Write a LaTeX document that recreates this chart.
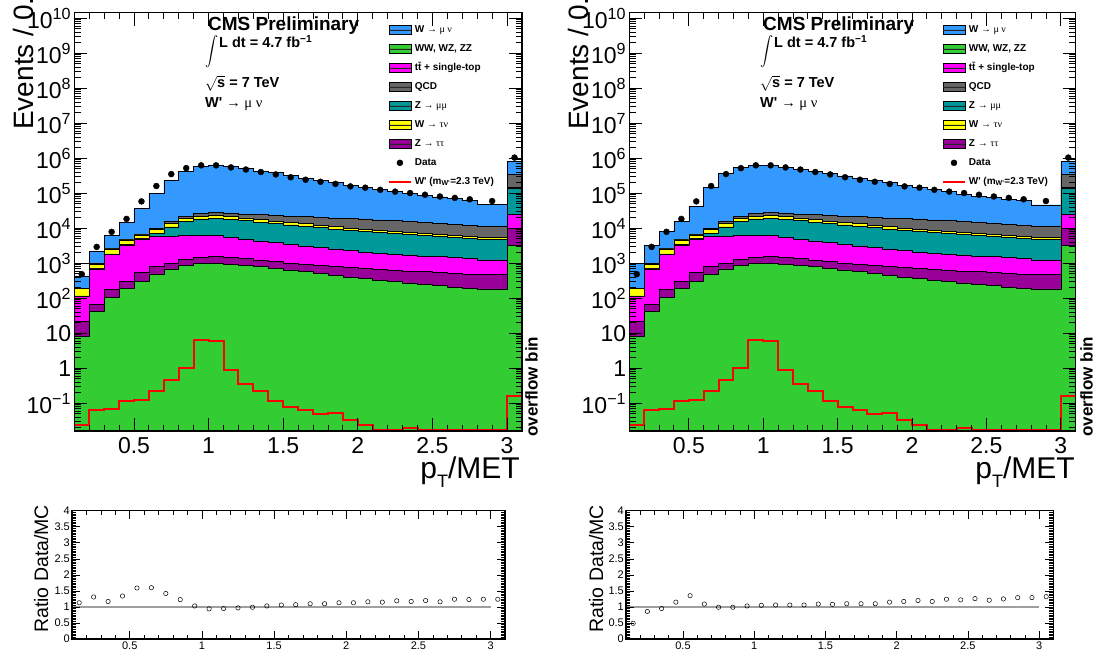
\documentclass[border=0pt]{standalone}
\usepackage{fontspec}
\setmainfont{Liberation Sans}
\newfontfamily\symfont{Liberation Serif}
\usepackage{pgfplots}
\pgfplotsset{compat=1.18}
\usepackage{pgfplotstable}

\definecolor{cWmu}{RGB}{51,153,255}
\definecolor{cVV}{RGB}{51,204,51}
\definecolor{cTop}{RGB}{255,0,255}
\definecolor{cQCD}{RGB}{102,102,102}
\definecolor{cZmu}{RGB}{0,153,153}
\definecolor{cWtau}{RGB}{255,255,0}
\definecolor{cZtau}{RGB}{153,0,153}
\definecolor{cSig}{RGB}{255,0,0}

% cumulative stack heights per bin (left bin edge);
% first and last rows drop to the lower axis limit so that the areas close at the bottom
\pgfplotstableread{
x   wmuL    wmuR    qcd     wtau    zmm     top     ztt     vv
0.1 0.0162  0.0162  0.0162  0.0162  0.0162  0.0162  0.0162  0.0162
0.1 437     1000    195     191     117     115     21.9    8.1
0.2 2240    3310    977     955     708     692     66.1    41.7
0.3 6310    8320    2630    2570    1860    1820    182     107
0.4 14500   15800   4900    4680    3470    3310    309     191
0.5 36300   42700   6920    6460    5130    5010    537     309
0.6 102000  151000  10000   9120    7240    5890    813     501
0.7 240000  372000  15500   13500   11000   6030    977     692
0.8 427000  537000  21400   19100   16200   6310    1320    851
0.9 575000  617000  26300   22400   18600   6310    1480    977
1.0 646000  631000  28800   23400   19500   6170    1580    1000
1.1 603000  562000  27500   21900   18200   5500    1480    955
1.2 513000  479000  25700   20000   16600   4900    1350    891
1.3 437000  417000  24500   17800   14800   4370    1230    813
1.4 389000  363000  22900   16200   13500   3890    1120    724
1.5 324000  316000  21900   14800   12600   3550    1020    646
1.6 275000  269000  21400   13500   11500   3160    955     575
1.7 240000  240000  20400   12300   10500   2820    891     513
1.8 204000  204000  20000   11200   9550    2570    813     457
1.9 170000  166000  19100   10200   8710    2290    759     407
2.0 148000  145000  18600   9550    8130    2040    708     363
2.1 132000  129000  17400   8910    7590    1950    676     331
2.2 115000  112000  16600   8320    7080    1820    646     302
2.3 100000  95500   15500   7760    6610    1740    603     275
2.4 87100   83200   14500   7240    6170    1620    575     251
2.5 79400   75900   13500   6610    5750    1550    537     229
2.6 70800   67600   12900   6170    5370    1450    513     209
2.7 61700   61700   12000   5890    5130    1380    490     191
2.8 47900   46800   11700   5620    4900    1260    479     186
3.0 832000  813000  347000  148000  141000  24500   10000   3310
3.1 832000  813000  347000  148000  141000  24500   10000   3310
3.1 0.0162  0.0162  0.0162  0.0162  0.0162  0.0162  0.0162  0.0162
}\stacktab

\pgfplotstableread{
x    y
0.15 490
0.25 2950
0.35 7940
0.45 18600
0.55 58900
0.65 162000
0.75 355000
0.85 525000
0.95 631000
1.05 631000
1.15 550000
1.25 479000
1.35 407000
1.45 347000
1.55 288000
1.65 245000
1.75 214000
1.85 186000
1.95 158000
2.05 145000
2.15 126000
2.25 112000
2.35 102000
2.45 91200
2.55 81300
2.65 74100
2.75 67600
2.90 60300
3.05 1050000
}\datatab

\pgfplotstableread{
x   y
0.1 0.024
0.2 0.063
0.3 0.069
0.4 0.117
0.5 0.126
0.6 0.224
0.7 0.457
0.8 1.02
0.9 6.46
1.0 6.03
1.1 0.891
1.2 0.363
1.3 0.219
1.4 0.120
1.5 0.0776
1.6 0.0661
1.7 0.0501
1.8 0.0525
1.9 0.0340
2.0 0.0240
2.1 0.0172
2.2 0.0178
2.3 0.0200
2.4 0.0168
2.5 0.0168
2.6 0.0168
2.7 0.0168
2.8 0.0168
3.0 0.166
3.1 0.166
}\sigtab

\pgfplotstableread{
x    rL   rR
0.15 1.13 0.49
0.25 1.31 0.86
0.35 1.17 0.95
0.45 1.34 1.15
0.55 1.59 1.35
0.65 1.60 1.09
0.75 1.42 0.99
0.85 1.23 0.99
0.95 1.03 1.03
1.05 0.94 1.05
1.15 0.95 1.06
1.25 0.97 1.06
1.35 0.99 1.06
1.45 1.03 1.09
1.55 1.06 1.08
1.65 1.07 1.10
1.75 1.10 1.10
1.85 1.10 1.10
1.95 1.13 1.15
2.05 1.13 1.17
2.15 1.16 1.20
2.25 1.15 1.17
2.35 1.19 1.24
2.45 1.17 1.22
2.55 1.20 1.26
2.65 1.16 1.21
2.75 1.24 1.25
2.85 1.23 1.29
2.95 1.24 1.29
3.05 1.24 1.32
}\ratiotab

\pgfplotsset{
  stackfill/.style={const plot mark left, draw=black, line width=0.6pt, forget plot},
  swatch/.style={legend image code/.code={%
      \fill (0pt,-4.5pt) rectangle (22pt,4.5pt);
      \draw[black!85, line width=0.6pt] (0pt,0pt) -- (22pt,0pt);}},
}

% legend entries, shared by both panels
\newcommand\legendentries{%
  \addlegendimage{swatch, fill=cWmu}\addlegendentry{W {\symfont\mdseries → μ ν}}
  \addlegendimage{swatch, fill=cVV}\addlegendentry{WW, WZ, ZZ}
  \addlegendimage{swatch, fill=cTop}\addlegendentry{t\={t} + single-top}
  \addlegendimage{swatch, fill=cQCD}\addlegendentry{QCD}
  \addlegendimage{swatch, fill=cZmu}\addlegendentry{Z {\symfont\mdseries → μμ}}
  \addlegendimage{swatch, fill=cWtau}\addlegendentry{W {\symfont\mdseries → τν}}
  \addlegendimage{swatch, fill=cZtau}\addlegendentry{Z {\symfont\mdseries → ττ}}
  \addlegendimage{legend image code/.code={\fill[black] (11pt,0pt) circle (3pt);}}\addlegendentry{Data}
  \addlegendimage{legend image code/.code={\draw[cSig, line width=1.8pt] (0pt,0pt) -- (22pt,0pt);}}\addlegendentry{W\textquotesingle\ (m\textsubscript{W\textquotesingle}=2.3 TeV)}
}

% the lower layers of the stack, the signal and the data, common to both panels
\newcommand\lowerstack{%
  \addplot[stackfill, fill=cQCD]  table[x=x, y=qcd]  {\stacktab};
  \addplot[stackfill, fill=cWtau] table[x=x, y=wtau] {\stacktab};
  \addplot[stackfill, fill=cZmu]  table[x=x, y=zmm]  {\stacktab};
  \addplot[stackfill, fill=cTop]  table[x=x, y=top]  {\stacktab};
  \addplot[stackfill, fill=cZtau] table[x=x, y=ztt]  {\stacktab};
  \addplot[stackfill, fill=cVV]   table[x=x, y=vv]   {\stacktab};
  \addplot[const plot mark left, draw=cSig, line width=2pt, forget plot] table {\sigtab};
  \addplot[only marks, mark=*, mark size=3pt, black, forget plot] table {\datatab};
}

\newcommand\mainopts{%
    scale only axis, height=418.3pt, anchor=south west,
    ymode=log,
    xmin=0.1, xmax=3.1, ymin=0.0162, ymax=1.45e10,
    xtick={0.5,1,1.5,2,2.5,3},
    minor xtick={0.1,0.2,...,3.1},
    ytick={1e-1,1,10,100,1e3,1e4,1e5,1e6,1e7,1e8,1e9,1e10},
    minor ytick={2e-2,3e-2,4e-2,5e-2,6e-2,7e-2,8e-2,9e-2,
      2e-1,3e-1,4e-1,5e-1,6e-1,7e-1,8e-1,9e-1,
      2,3,4,5,6,7,8,9, 20,30,40,50,60,70,80,90,
      200,300,400,500,600,700,800,900,
      2e3,3e3,4e3,5e3,6e3,7e3,8e3,9e3,
      2e4,3e4,4e4,5e4,6e4,7e4,8e4,9e4,
      2e5,3e5,4e5,5e5,6e5,7e5,8e5,9e5,
      2e6,3e6,4e6,5e6,6e6,7e6,8e6,9e6,
      2e7,3e7,4e7,5e7,6e7,7e7,8e7,9e7,
      2e8,3e8,4e8,5e8,6e8,7e8,8e8,9e8,
      2e9,3e9,4e9,5e9,6e9,7e9,8e9,9e9},
    yticklabels={10\textsuperscript{−1},1,10,10\textsuperscript{2},10\textsuperscript{3},10\textsuperscript{4},10\textsuperscript{5},10\textsuperscript{6},10\textsuperscript{7},10\textsuperscript{8},10\textsuperscript{9},10\textsuperscript{10}},
    axis on top, tick align=inside,
    major tick length=13pt, minor tick length=6.5pt,
    every tick/.style={black, line width=0.9pt},
    axis line style={line width=1.5pt},
    tick label style={font=\fontsize{23}{23}\selectfont},
    yticklabel style={inner xsep=3pt},
    xticklabel style={inner ysep=6pt},
    legend cell align=left,
    legend style={at={(0.7007,0.971)}, anchor=north west, draw=none, fill=none,
      inner sep=0pt, outer sep=0pt, row sep=9pt,
      font=\fontsize{10}{12}\selectfont\bfseries,
      nodes={inner sep=0pt, text height=7.5pt, text depth=2.5pt},
      /tikz/every odd column/.append style={column sep=3pt}},
    /pgf/number format/assume math mode=true}

\newcommand\ratioopts{%
    scale only axis, height=128.3pt, anchor=south west,
    xmin=0.1, xmax=3.1, ymin=0, ymax=4,
    xtick={0.5,1,1.5,2,2.5,3}, minor xtick={0.1,0.2,...,3.1},
    ytick={0,0.5,1,1.5,2,2.5,3,3.5,4}, minor y tick num=9,
    axis on top, tick align=inside,
    major tick length=8pt, minor tick length=4pt,
    every tick/.style={black, line width=0.6pt},
    axis line style={line width=1.2pt},
    tick label style={font=\fontsize{11}{11}\selectfont},
    yticklabel style={inner xsep=2pt},
    xticklabel style={inner ysep=3pt},
    /pgf/number format/assume math mode=true}

% text block shared by both panels, shifted by the panel offset
\newcommand\paneltext[1]{%
  \begin{scope}[xshift=#1]
  \node[anchor=base west, inner sep=0pt, font=\fontsize{19}{19}\selectfont\bfseries] at (208pt,626.3pt) {CMS Preliminary};
  \node[anchor=center, inner sep=0pt] at (211.5pt,605pt) {\scalebox{1.3}[1.45]{$\displaystyle\int$}};
  \node[anchor=base west, inner sep=0pt, font=\fontsize{14.5}{14.5}\selectfont\bfseries] at (219pt,609.5pt) {L dt = 4.7 fb\textsuperscript{−1}};
  \node[anchor=base west, inner sep=0pt, font=\fontsize{14.5}{14.5}\selectfont\bfseries] at (205pt,569pt) {$\sqrt{\mbox{\bfseries s}}$ = 7 TeV};
  \node[anchor=base west, inner sep=0pt, font=\fontsize{14.5}{14.5}\selectfont\bfseries] at (205pt,549.5pt) {W\textquotesingle\ {\symfont\mdseries → μ ν}};
  \node[anchor=base west, rotate=90, inner sep=0pt, font=\fontsize{28}{28}\selectfont] at (33pt,527pt) {Events / 0.1};
  \node[anchor=base east, inner sep=0pt, font=\fontsize{30}{30}\selectfont] at (520pt,179pt) {p\raisebox{-0.3em}{\fontsize{18}{18}\selectfont T}/MET};
  \node[anchor=base west, rotate=90, inner sep=0pt, font=\fontsize{17}{17}\selectfont\bfseries] at (537.5pt,220pt) {overflow bin};
  \node[anchor=base west, rotate=90, inner sep=0pt, font=\fontsize{19.5}{19.5}\selectfont] at (48pt,24pt) {Ratio Data/MC};
  \end{scope}
}

\begin{document}
\begin{tikzpicture}
\useasboundingbox (0pt,0pt) rectangle (1097pt,657pt);

% ---------- left panel ----------
\expandafter\begin\expandafter{\expandafter a\expandafter x\expandafter i\expandafter s\expandafter}\expandafter[\mainopts, at={(74.3pt,226pt)}, width=447.7pt]
  \legendentries
  \addplot[stackfill, fill=cWmu] table[x=x, y=wmuL] {\stacktab};
  \lowerstack
  \addplot[const plot mark left, black, line width=0.6pt, forget plot] coordinates {(0.1,1000) (0.2,1000)};
\end{axis}

\expandafter\begin\expandafter{\expandafter a\expandafter x\expandafter i\expandafter s\expandafter}\expandafter[\ratioopts, at={(72pt,18pt)}, width=433pt]
  \addplot[gray!75, line width=1.2pt] coordinates {(0.1,1) (3.0,1)};
  \addplot[only marks, mark=o, mark size=2.2pt, black, line width=0.5pt] table[x=x, y=rL] {\ratiotab};
\end{axis}

% ---------- right panel ----------
\expandafter\begin\expandafter{\expandafter a\expandafter x\expandafter i\expandafter s\expandafter}\expandafter[\mainopts, at={(629.3pt,226pt)}, width=446.4pt]
  \legendentries
  \addplot[stackfill, fill=cWmu] table[x=x, y=wmuR] {\stacktab};
  \lowerstack
\end{axis}

\expandafter\begin\expandafter{\expandafter a\expandafter x\expandafter i\expandafter s\expandafter}\expandafter[\ratioopts, at={(626pt,18pt)}, width=427.3pt]
  \addplot[gray!75, line width=1.2pt] coordinates {(0.1,1) (3.0,1)};
  \addplot[only marks, mark=o, mark size=2.2pt, black, line width=0.5pt] table[x=x, y=rR] {\ratiotab};
\end{axis}

\paneltext{0pt}
\paneltext{555pt}
\end{tikzpicture}
\end{document}
